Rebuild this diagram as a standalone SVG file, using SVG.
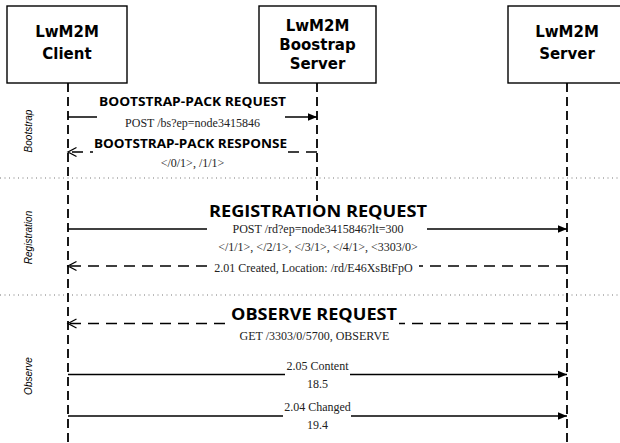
<svg xmlns="http://www.w3.org/2000/svg" width="620" height="443" viewBox="0 0 620 443">
<style>
.box{fill:#fff;stroke:#000;stroke-width:1.4}
.nt{font-family:"DejaVu Sans","Open Sans",sans-serif;font-weight:bold;font-size:15px;text-anchor:middle;fill:#000}
.life{stroke:#000;stroke-width:1.8;stroke-dasharray:9,5;fill:none}
.sep{stroke:#777;stroke-width:1;stroke-dasharray:1,3.5;fill:none}
.msg{stroke:#000;stroke-width:1.4;fill:none}
.dash{stroke-dasharray:11,7}
.bt{font-family:"Open Sans","Liberation Sans",sans-serif;font-weight:bold;text-anchor:middle;fill:#000}
.st{font-family:"Liberation Serif","Times New Roman",serif;font-size:12px;text-anchor:middle;fill:#222}
.sec{font-family:"Liberation Sans",Arial,sans-serif;font-style:italic;font-size:10px;text-anchor:middle;fill:#000}
.bg{fill:#fff;stroke:none}
</style>
<defs>
<marker id="ah" markerUnits="userSpaceOnUse" markerWidth="10" markerHeight="10" refX="9" refY="5" orient="auto">
<path d="M0,1.2 L9,5 L0,8.8 z" fill="#000"/>
</marker>
<marker id="oh" markerUnits="userSpaceOnUse" markerWidth="12" markerHeight="12" refX="10" refY="6" orient="auto">
<path d="M1.5,1.5 L10,6 L1.5,10.5" fill="none" stroke="#000" stroke-width="1.3"/>
</marker>
</defs>
<rect width="620" height="443" fill="#fff"/>
<g id="separators">
<line class="sep" x1="0" y1="178" x2="620" y2="178"/>
<line class="sep" x1="0" y1="295" x2="620" y2="295"/>
</g>
<g id="lifelines">
<line class="life" x1="68" y1="83" x2="68" y2="443"/>
<line class="life" x1="317" y1="83" x2="317" y2="201"/>
<line class="life" x1="567" y1="83" x2="567" y2="443"/>
</g>
<g id="client">
<rect class="box" x="7" y="6" width="120" height="77"/>
<text class="nt" x="67" y="37">LwM2M</text>
<text class="nt" x="67" y="59">Client</text>
</g>
<g id="bootstrap-server">
<rect class="box" x="259" y="6" width="117" height="77"/>
<text class="nt" x="317.5" y="31">LwM2M</text>
<text class="nt" x="317.5" y="50">Boostrap</text>
<text class="nt" x="317.5" y="69">Server</text>
</g>
<g id="server">
<rect class="box" x="508" y="6" width="118" height="77"/>
<text class="nt" x="567" y="37">LwM2M</text>
<text class="nt" x="567" y="59">Server</text>
</g>
<g id="sections">
<text class="sec" transform="translate(32,131) rotate(-90)">Bootstrap</text>
<text class="sec" transform="translate(32,237.5) rotate(-90)">Registration</text>
<text class="sec" transform="translate(32,376) rotate(-90)">Observe</text>
</g>
<g id="connectors">
<line class="msg" x1="68" y1="117" x2="317" y2="117" marker-end="url(#ah)"/>
<line class="msg dash" x1="317" y1="152" x2="68" y2="152" marker-end="url(#oh)"/>
<line class="msg" x1="68" y1="229" x2="567" y2="229" marker-end="url(#ah)"/>
<line class="msg dash" x1="567" y1="266" x2="68" y2="266" marker-end="url(#oh)"/>
<line class="msg dash" x1="567" y1="323.5" x2="68" y2="323.5" marker-end="url(#oh)"/>
<line class="msg" x1="68" y1="374.5" x2="567" y2="374.5" marker-end="url(#ah)"/>
<line class="msg" x1="68" y1="416" x2="567" y2="416" marker-end="url(#ah)"/>
</g>
<g id="labels">
<rect class="bg" x="97" y="111" width="188" height="13"/>
<text class="bt" x="192.5" y="106" font-size="12.5" textLength="187" lengthAdjust="spacingAndGlyphs">BOOTSTRAP-PACK REQUEST</text>
<text class="st" x="192.5" y="127">POST /bs?ep=node3415846</text>
<rect class="bg" x="93" y="146" width="195" height="10"/>
<text class="bt" x="190.5" y="148" font-size="12.5" textLength="193" lengthAdjust="spacingAndGlyphs">BOOTSTRAP-PACK RESPONSE</text>
<text class="st" x="192.5" y="167">&lt;/0/1&gt;, /1/1&gt;</text>
<rect class="bg" x="207" y="223" width="220" height="13"/>
<text class="bt" x="318" y="217" font-size="16.5" textLength="218" lengthAdjust="spacingAndGlyphs">REGISTRATION REQUEST</text>
<text class="st" x="318" y="233">POST /rd?ep=node3415846?lt=300</text>
<text class="st" x="318" y="251">&lt;/1/1&gt;, &lt;/2/1&gt;, &lt;/3/1&gt;, &lt;/4/1&gt;, &lt;3303/0&gt;</text>
<rect class="bg" x="207" y="260" width="212" height="14"/>
<text class="st" x="313.5" y="272">2.01 Created, Location: /rd/E46XsBtFpO</text>
<rect class="bg" x="231" y="318" width="168" height="11"/>
<text class="bt" x="314" y="320" font-size="16.5" textLength="166" lengthAdjust="spacingAndGlyphs">OBSERVE REQUEST</text>
<text class="st" x="314.5" y="340">GET /3303/0/5700, OBSERVE</text>
<rect class="bg" x="285" y="369" width="65" height="11"/>
<text class="st" x="317.5" y="370">2.05 Content</text>
<text class="st" x="317.5" y="388">18.5</text>
<rect class="bg" x="283" y="410" width="68" height="11"/>
<text class="st" x="317.5" y="410.5">2.04 Changed</text>
<text class="st" x="317.5" y="429">19.4</text>
</g>
</svg>
